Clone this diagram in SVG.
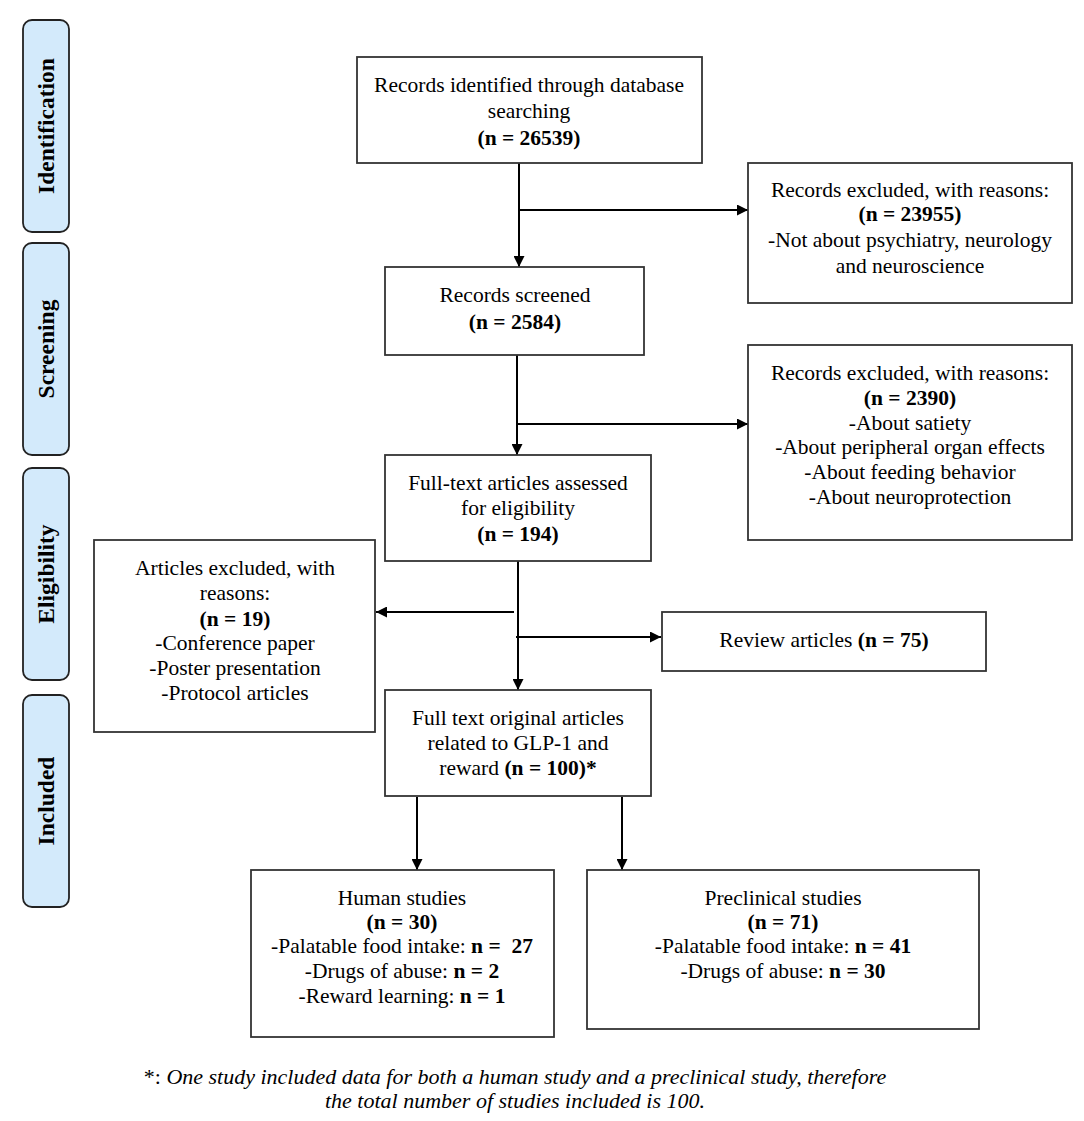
<svg xmlns="http://www.w3.org/2000/svg" width="1084" height="1121" viewBox="0 0 1084 1121">
<style>
.bg{fill:#ffffff}
.phase{fill:#d3eafb;stroke:#222;stroke-width:1.8}
.phase-t{font-family:"Liberation Serif",serif;font-size:23.5px;font-weight:bold;fill:#000;text-anchor:middle}
.box{fill:#fff;stroke:#333;stroke-width:1.8}
.t{font-family:"Liberation Serif",serif;font-size:21.5px;fill:#000;text-anchor:middle}
.b{font-weight:bold}
.conn{stroke:#000;stroke-width:2;fill:none}
.note{font-family:"Liberation Serif",serif;font-size:22px;font-style:italic;fill:#000;text-anchor:middle}
</style>
<defs>
<marker id="arr" viewBox="0 0 11 11" refX="11" refY="5.5" markerWidth="11" markerHeight="11" markerUnits="userSpaceOnUse" orient="auto">
<path d="M0,0 L11,5.5 L0,11 Z" fill="#000"/>
</marker>
</defs>
<rect class="bg" x="0" y="0" width="1084" height="1121"/>

<g id="phase-identification">
<rect class="phase" x="23" y="20" width="46" height="212" rx="9"/>
<text class="phase-t" transform="translate(54,126) rotate(-90)">Identification</text>
</g>
<g id="phase-screening">
<rect class="phase" x="23" y="243" width="46" height="212" rx="9"/>
<text class="phase-t" transform="translate(54,349) rotate(-90)">Screening</text>
</g>
<g id="phase-eligibility">
<rect class="phase" x="23" y="468" width="46" height="212" rx="9"/>
<text class="phase-t" transform="translate(54,574) rotate(-90)">Eligibility</text>
</g>
<g id="phase-included">
<rect class="phase" x="23" y="695" width="46" height="212" rx="9"/>
<text class="phase-t" transform="translate(54,801) rotate(-90)">Included</text>
</g>

<g id="connectors">
<line class="conn" x1="519" y1="163" x2="519" y2="267" marker-end="url(#arr)"/>
<line class="conn" x1="519" y1="210" x2="748" y2="210" marker-end="url(#arr)"/>
<line class="conn" x1="517" y1="355" x2="517" y2="455" marker-end="url(#arr)"/>
<line class="conn" x1="517" y1="424" x2="748" y2="424" marker-end="url(#arr)"/>
<line class="conn" x1="518" y1="561" x2="518" y2="690" marker-end="url(#arr)"/>
<line class="conn" x1="514" y1="612" x2="376" y2="612" marker-end="url(#arr)"/>
<line class="conn" x1="516" y1="637" x2="661" y2="637" marker-end="url(#arr)"/>
<line class="conn" x1="417" y1="797" x2="417" y2="870" marker-end="url(#arr)"/>
<line class="conn" x1="622" y1="797" x2="622" y2="870" marker-end="url(#arr)"/>
</g>

<g id="records-identified">
<rect class="box" x="357" y="57" width="345" height="106"/>
<text class="t" x="529" y="92">Records identified through database</text>
<text class="t" x="529" y="118">searching</text>
<text class="t b" x="529" y="145">(n = 26539)</text>
</g>

<g id="excluded-1">
<rect class="box" x="748" y="163" width="324" height="140"/>
<text class="t" x="910" y="197">Records excluded, with reasons:</text>
<text class="t b" x="910" y="221">(n = 23955)</text>
<text class="t" x="910" y="247">-Not about psychiatry, neurology</text>
<text class="t" x="910" y="273">and neuroscience</text>
</g>

<g id="records-screened">
<rect class="box" x="385" y="267" width="259" height="88"/>
<text class="t" x="515" y="302">Records screened</text>
<text class="t b" x="515" y="329">(n = 2584)</text>
</g>

<g id="excluded-2">
<rect class="box" x="748" y="345" width="324" height="195"/>
<text class="t" x="910" y="380">Records excluded, with reasons:</text>
<text class="t b" x="910" y="405">(n = 2390)</text>
<text class="t" x="910" y="430">-About satiety</text>
<text class="t" x="910" y="454">-About peripheral organ effects</text>
<text class="t" x="910" y="479">-About feeding behavior</text>
<text class="t" x="910" y="504">-About neuroprotection</text>
</g>

<g id="full-text-assessed">
<rect class="box" x="385" y="455" width="266" height="106"/>
<text class="t" x="518" y="490">Full-text articles assessed</text>
<text class="t" x="518" y="515">for eligibility</text>
<text class="t b" x="518" y="541">(n = 194)</text>
</g>

<g id="articles-excluded">
<rect class="box" x="94" y="540" width="281" height="192"/>
<text class="t" x="235" y="575">Articles excluded, with</text>
<text class="t" x="235" y="600">reasons:</text>
<text class="t b" x="235" y="626">(n = 19)</text>
<text class="t" x="235" y="650">-Conference paper</text>
<text class="t" x="235" y="675">-Poster presentation</text>
<text class="t" x="235" y="700">-Protocol articles</text>
</g>

<g id="review-articles">
<rect class="box" x="662" y="612" width="324" height="59"/>
<text class="t" x="824" y="647">Review articles <tspan class="b">(n = 75)</tspan></text>
</g>

<g id="included-articles">
<rect class="box" x="385" y="690" width="266" height="106"/>
<text class="t" x="518" y="725">Full text original articles</text>
<text class="t" x="518" y="750">related to GLP-1 and</text>
<text class="t" x="518" y="775">reward <tspan class="b">(n = 100)*</tspan></text>
</g>

<g id="human-studies">
<rect class="box" x="251" y="870" width="303" height="167"/>
<text class="t" x="402" y="905">Human studies</text>
<text class="t b" x="402" y="929">(n = 30)</text>
<text class="t" x="402" y="953" xml:space="preserve">-Palatable food intake: <tspan class="b">n =  27</tspan></text>
<text class="t" x="402" y="978">-Drugs of abuse: <tspan class="b">n = 2</tspan></text>
<text class="t" x="402" y="1003">-Reward learning: <tspan class="b">n = 1</tspan></text>
</g>

<g id="preclinical-studies">
<rect class="box" x="587" y="870" width="392" height="159"/>
<text class="t" x="783" y="905">Preclinical studies</text>
<text class="t b" x="783" y="929">(n = 71)</text>
<text class="t" x="783" y="953">-Palatable food intake: <tspan class="b">n = 41</tspan></text>
<text class="t" x="783" y="978">-Drugs of abuse: <tspan class="b">n = 30</tspan></text>
</g>

<g id="footnote">
<text class="note" x="515" y="1084"><tspan font-style="normal">*:</tspan> One study included data for both a human study and a preclinical study, therefore</text>
<text class="note" x="515" y="1108">the total number of studies included is 100.</text>
</g>
</svg>
